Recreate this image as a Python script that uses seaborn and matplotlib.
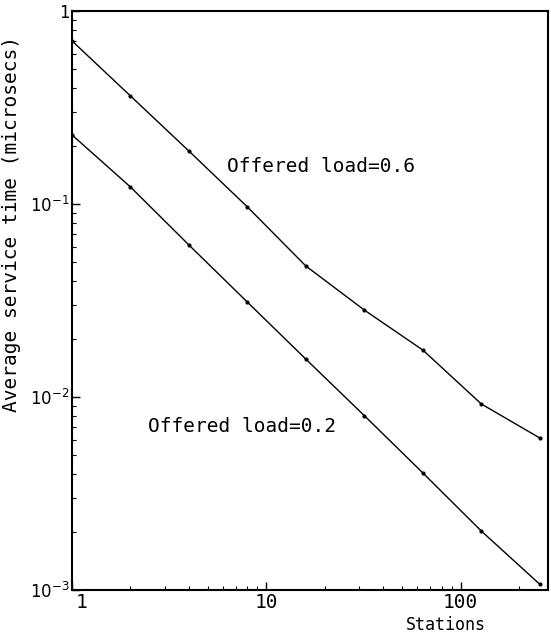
import matplotlib
matplotlib.use("Agg")
import matplotlib.pyplot as plt
import matplotlib.transforms as mtransforms
import seaborn as sns
import pandas as pd
from matplotlib.ticker import LogLocator, FixedLocator, NullFormatter

stations = [1, 2, 4, 8, 16, 32, 64, 128, 256]
load_06 = [0.70, 0.363, 0.188, 0.0965, 0.0477, 0.0282, 0.0175, 0.0092, 0.00613]
load_02 = [0.228, 0.1225, 0.0613, 0.031, 0.0157, 0.0080, 0.00404, 0.00202, 0.00107]
series_names = ["Offered load=0.6", "Offered load=0.2"]

df = pd.concat([
    pd.DataFrame({"Stations": stations, "time": load_06, "load": series_names[0]}),
    pd.DataFrame({"Stations": stations, "time": load_02, "load": series_names[1]}),
])

sns.set_theme(style="white")
plt.rcParams['font.family'] = ['DejaVu Sans Mono', 'DejaVu Sans']
plt.rcParams['mathtext.fontset'] = 'dejavusans'

fig = plt.figure(figsize=(5.51, 6.38), dpi=100)
ax = fig.add_axes([72/551, 1-590/638, 476/551, 579/638])

sns.lineplot(data=df, x="Stations", y="time", hue="load", palette=["black", "black"],
             marker="o", markersize=3, markeredgewidth=0, linewidth=1.0, legend=False, ax=ax)

ax.set_xscale("log")
ax.set_yscale("log")
ax.set_xlim(1, 282)
ax.set_ylim(1e-3, 1)

ax.xaxis.set_major_locator(FixedLocator([1, 10, 100]))
ax.set_xticklabels(["1", "10", "100"], fontsize=14)
ax.xaxis.set_minor_locator(LogLocator(base=10, subs=range(2, 10)))
ax.xaxis.set_minor_formatter(NullFormatter())
ax.yaxis.set_major_locator(FixedLocator([1e-3, 1e-2, 1e-1, 1]))
ax.set_yticklabels([r"$10^{-3}$", r"$10^{-2}$", r"$10^{-1}$", "1"], fontsize=12)
ax.yaxis.set_minor_locator(LogLocator(base=10, subs=range(2, 10)))
ax.yaxis.set_minor_formatter(NullFormatter())
ax.tick_params(which="major", direction="in", length=6, width=1, color="black", pad=2,
               labelcolor="black")
ax.tick_params(which="minor", direction="in", length=3, width=0.8, color="black")
ax.tick_params(axis="x", which="both", bottom=True, top=False)
ax.tick_params(axis="y", which="both", left=True, right=False)

# nudge the "1" x tick label right, as in the reference
first = ax.get_xticklabels()[0]
first.set_transform(first.get_transform() + mtransforms.ScaledTranslation(9/100, 0, fig.dpi_scale_trans))

for s in ax.spines.values():
    s.set_color("black")
    s.set_linewidth(1.5)

ax.text(6.3, 0.157, series_names[0], fontsize=14, ha="left", va="center", color="black")
ax.text(2.46, 0.0070, series_names[1], fontsize=14, ha="left", va="center", color="black")

ax.set_xlabel("Stations", fontsize=12, color="black")
ax.xaxis.set_label_coords(0.786, -0.045)
ax.set_ylabel("Average service time (microsecs)", fontsize=14, color="black")
ax.yaxis.set_label_coords(-0.108, 0.632)

fig.savefig("out.png", dpi=100)
